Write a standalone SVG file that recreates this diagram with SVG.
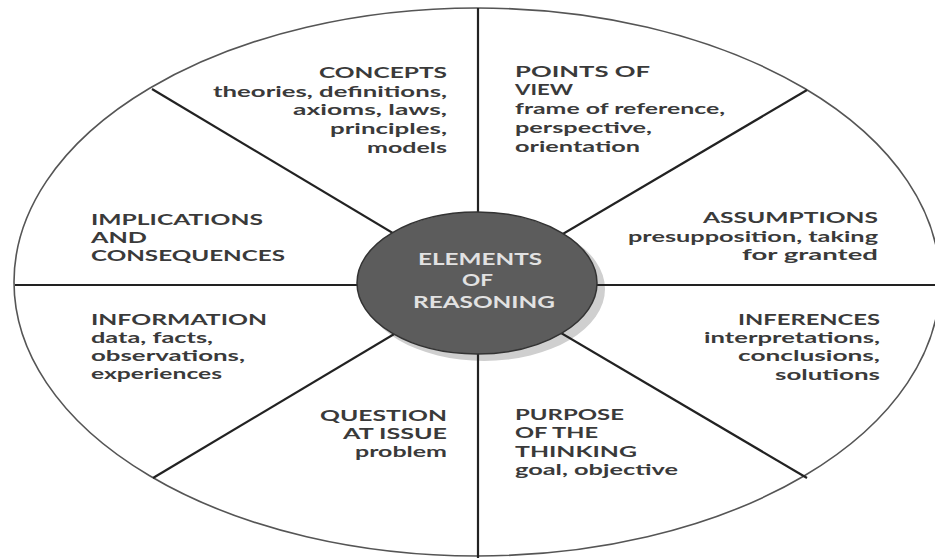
<svg xmlns="http://www.w3.org/2000/svg" width="935" height="558" viewBox="0 0 935 558">
<style>
.h{font-family:Lato,"Liberation Sans",sans-serif;font-size:15.5px;font-weight:700;fill:#3a3a3a}
.b{font-family:Lato,"Liberation Sans",sans-serif;font-size:15px;font-weight:700;fill:#3a3a3a}
.c{font-family:Lato,"Liberation Sans",sans-serif;font-size:17px;font-weight:700;fill:#e2e2e2}
.sp{stroke:#222;stroke-width:2.2;fill:none}
</style>
<rect width="935" height="558" fill="#ffffff"/>
<ellipse id="outer" cx="477" cy="282" rx="463" ry="274" fill="#ffffff" stroke="#555" stroke-width="1.6"/>
<ellipse cx="484" cy="289" rx="121" ry="72" fill="#cfcfcf"/>
<g id="connectors">
<line class="sp" x1="478" y1="8" x2="478" y2="558"/>
<line class="sp" x1="15" y1="285" x2="935" y2="285"/>
<line class="sp" x1="152" y1="89" x2="478" y2="284"/>
<line class="sp" x1="807" y1="90" x2="478" y2="284"/>
<line class="sp" x1="153" y1="478" x2="478" y2="284"/>
<line class="sp" x1="807" y1="478" x2="478" y2="284"/>
</g>
<g id="center">
<ellipse cx="477" cy="283" rx="120" ry="71" fill="#5c5c5c" stroke="#333" stroke-width="1.5"/>
<text class="c" x="418" y="265" textLength="124" lengthAdjust="spacingAndGlyphs">ELEMENTS</text>
<text class="c" x="462" y="286" textLength="31" lengthAdjust="spacingAndGlyphs">OF</text>
<text class="c" x="413" y="308" textLength="142" lengthAdjust="spacingAndGlyphs">REASONING</text>
</g>
<g id="concepts">
<text class="h" x="319" y="78" textLength="128" lengthAdjust="spacingAndGlyphs">CONCEPTS</text>
<text class="b" x="213" y="97" textLength="234" lengthAdjust="spacingAndGlyphs">theories, definitions,</text>
<text class="b" x="293" y="115" textLength="154" lengthAdjust="spacingAndGlyphs">axioms, laws,</text>
<text class="b" x="330" y="134" textLength="117" lengthAdjust="spacingAndGlyphs">principles,</text>
<text class="b" x="367" y="153" textLength="80" lengthAdjust="spacingAndGlyphs">models</text>
</g>
<g id="points-of-view">
<text class="h" x="515" y="77" textLength="135" lengthAdjust="spacingAndGlyphs">POINTS OF</text>
<text class="h" x="515" y="95" textLength="58" lengthAdjust="spacingAndGlyphs">VIEW</text>
<text class="b" x="515" y="114" textLength="210" lengthAdjust="spacingAndGlyphs">frame of reference,</text>
<text class="b" x="515" y="133" textLength="137" lengthAdjust="spacingAndGlyphs">perspective,</text>
<text class="b" x="515" y="152" textLength="125" lengthAdjust="spacingAndGlyphs">orientation</text>
</g>
<g id="implications">
<text class="h" x="91" y="225" textLength="172" lengthAdjust="spacingAndGlyphs">IMPLICATIONS</text>
<text class="h" x="91" y="243" textLength="56" lengthAdjust="spacingAndGlyphs">AND</text>
<text class="h" x="91" y="261" textLength="194" lengthAdjust="spacingAndGlyphs">CONSEQUENCES</text>
</g>
<g id="assumptions">
<text class="h" x="703" y="223" textLength="175" lengthAdjust="spacingAndGlyphs">ASSUMPTIONS</text>
<text class="b" x="628" y="242" textLength="250" lengthAdjust="spacingAndGlyphs">presupposition, taking</text>
<text class="b" x="742" y="260" textLength="136" lengthAdjust="spacingAndGlyphs">for granted</text>
</g>
<g id="information">
<text class="h" x="91" y="325" textLength="176" lengthAdjust="spacingAndGlyphs">INFORMATION</text>
<text class="b" x="91" y="343" textLength="122" lengthAdjust="spacingAndGlyphs">data, facts,</text>
<text class="b" x="91" y="361" textLength="154" lengthAdjust="spacingAndGlyphs">observations,</text>
<text class="b" x="91" y="379" textLength="131" lengthAdjust="spacingAndGlyphs">experiences</text>
</g>
<g id="inferences">
<text class="h" x="738" y="325" textLength="142" lengthAdjust="spacingAndGlyphs">INFERENCES</text>
<text class="b" x="704" y="343" textLength="176" lengthAdjust="spacingAndGlyphs">interpretations,</text>
<text class="b" x="738" y="361" textLength="142" lengthAdjust="spacingAndGlyphs">conclusions,</text>
<text class="b" x="775" y="380" textLength="105" lengthAdjust="spacingAndGlyphs">solutions</text>
</g>
<g id="question">
<text class="h" x="320" y="421" textLength="127" lengthAdjust="spacingAndGlyphs">QUESTION</text>
<text class="h" x="343" y="439" textLength="104" lengthAdjust="spacingAndGlyphs">AT ISSUE</text>
<text class="b" x="355" y="457" textLength="92" lengthAdjust="spacingAndGlyphs">problem</text>
</g>
<g id="purpose">
<text class="h" x="515" y="420" textLength="109" lengthAdjust="spacingAndGlyphs">PURPOSE</text>
<text class="h" x="515" y="438" textLength="83" lengthAdjust="spacingAndGlyphs">OF THE</text>
<text class="h" x="515" y="457" textLength="122" lengthAdjust="spacingAndGlyphs">THINKING</text>
<text class="b" x="515" y="475" textLength="163" lengthAdjust="spacingAndGlyphs">goal, objective</text>
</g>
</svg>
